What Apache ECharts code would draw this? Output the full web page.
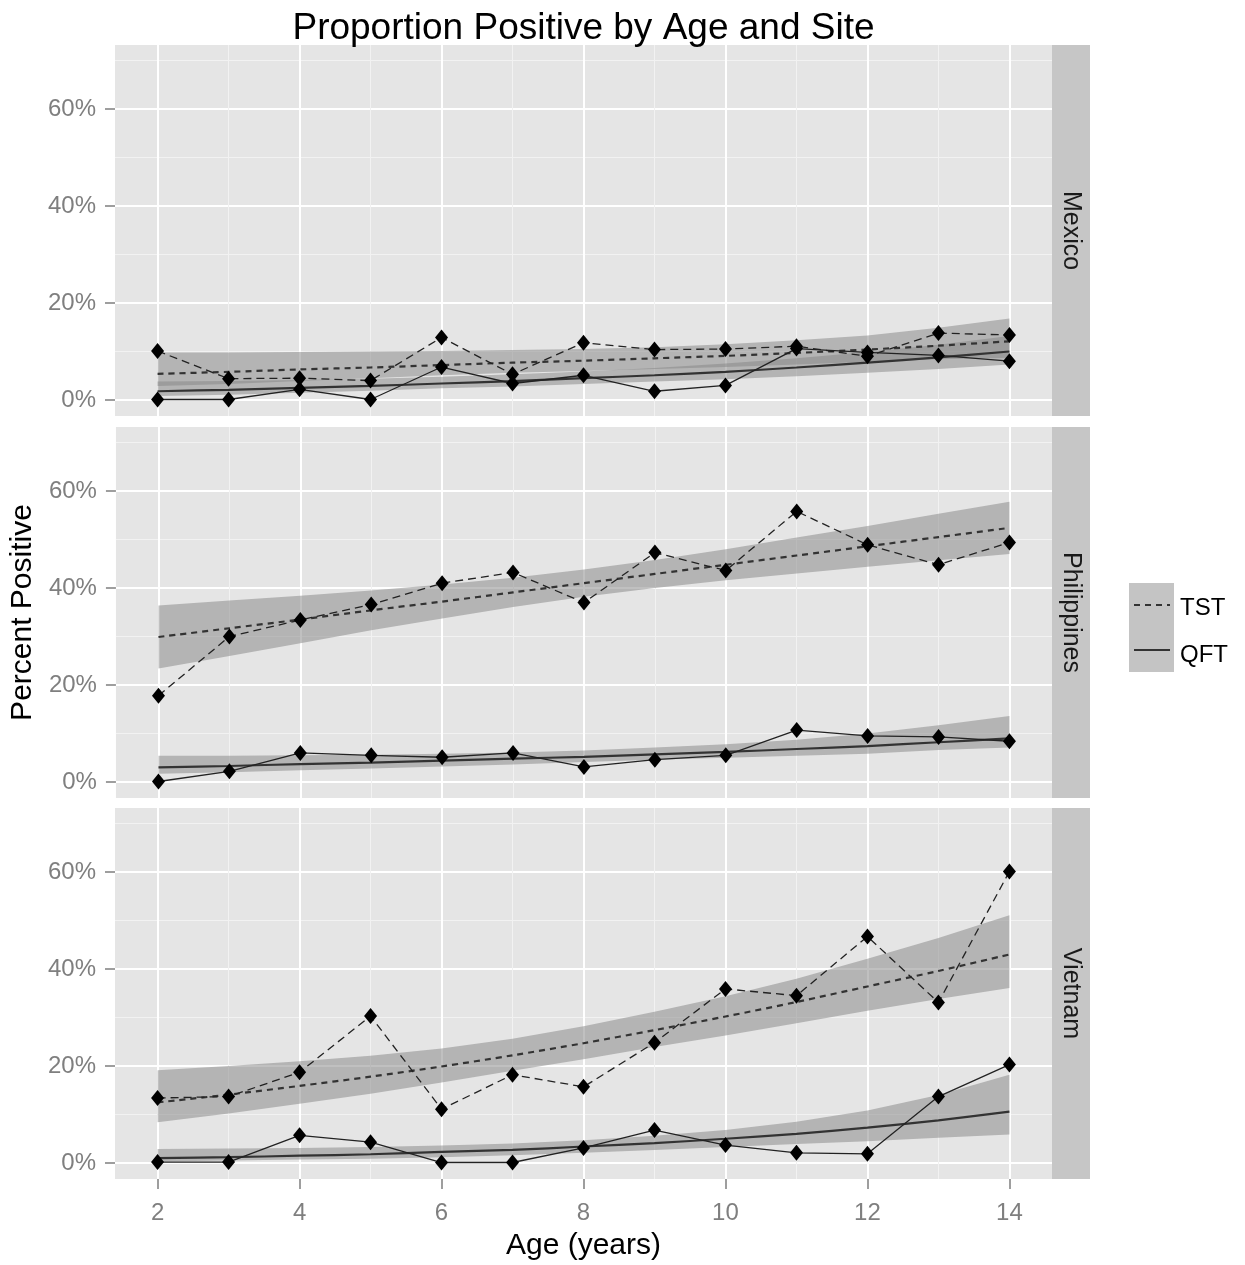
<!DOCTYPE html>
<html><head><meta charset="utf-8">
<script src="https://cdn.jsdelivr.net/npm/echarts@6/dist/echarts.min.js"></script>
<style>html,body{margin:0;padding:0;background:#fff}#c{width:1245px;height:1265px}</style>
</head><body><div id="c"></div>
<script>
// ---- data (percent) ----
const sites = ['Mexico', 'Philippines', 'Vietnam'];
const ages = [2, 3, 4, 5, 6, 7, 8, 9, 10, 11, 12, 13, 14];
const xTickLabels = [2, 4, 6, 8, 10, 12, 14];
const xMinorTicks = [3, 5, 7, 9, 11, 13];
const yTickLabels = [0, 20, 40, 60];
const yMinorTicks = [10, 30, 50, 70];

// observed
const mexicoTST = [10.1, 4.4, 4.5, 4.0, 12.9, 5.3, 11.8, 10.4, 10.5, 11.1, 9.0, 13.8, 13.4];
const mexicoQFT = [0.1, 0.1, 2.2, 0.1, 6.8, 3.4, 5.1, 1.8, 3.0, 10.6, 9.8, 9.2, 8.0];
const philippinesTST = [17.8, 30.0, 33.4, 36.6, 41.0, 43.2, 37.0, 47.3, 43.6, 55.8, 48.9, 44.8, 49.4];
const philippinesQFT = [0.1, 2.2, 6.0, 5.5, 5.1, 6.0, 3.1, 4.6, 5.5, 10.7, 9.5, 9.3, 8.4];
const vietnamTST = [13.4, 13.7, 18.7, 30.3, 11.1, 18.2, 15.7, 24.8, 35.9, 34.5, 46.7, 33.1, 60.1];
const vietnamQFT = [0.2, 0.2, 5.7, 4.3, 0.1, 0.1, 3.1, 6.8, 3.7, 2.1, 1.9, 13.7, 20.3];

// fitted trend + confidence band
const mexicoTSTFit = [5.4, 5.8, 6.3, 6.7, 7.2, 7.7, 8.1, 8.6, 9.1, 9.7, 10.4, 11.2, 12.1];
const mexicoTSTLow = [2.9, 3.3, 3.9, 4.5, 5.1, 5.6, 6.0, 6.4, 6.8, 7.3, 7.9, 8.4, 8.7];
const mexicoTSTHigh = [9.8, 9.8, 9.9, 10.0, 10.1, 10.3, 10.5, 10.9, 11.5, 12.3, 13.3, 14.9, 16.8];
const mexicoQFTFit = [1.8, 2.1, 2.5, 2.9, 3.4, 3.9, 4.5, 5.1, 5.8, 6.7, 7.7, 8.8, 10.0];
const mexicoQFTLow = [0.8, 1.1, 1.5, 1.9, 2.4, 2.8, 3.3, 3.8, 4.3, 4.9, 5.6, 6.4, 7.3];
const mexicoQFTHigh = [3.8, 3.9, 4.1, 4.4, 4.8, 5.3, 5.9, 6.6, 7.5, 8.6, 9.9, 11.4, 13.2];

const philippinesTSTFit = [29.9, 31.7, 33.5, 35.4, 37.2, 39.1, 41.0, 42.9, 44.8, 46.7, 48.6, 50.5, 52.4];
const philippinesTSTLow = [23.4, 26.0, 28.6, 31.3, 33.7, 36.1, 38.2, 40.0, 41.6, 43.0, 44.4, 45.7, 47.0];
const philippinesTSTHigh = [36.4, 37.4, 38.4, 39.5, 40.7, 42.1, 43.8, 45.8, 48.0, 50.4, 52.8, 55.3, 57.8];
const philippinesQFTFit = [3.0, 3.3, 3.7, 4.0, 4.4, 4.8, 5.2, 5.7, 6.2, 6.8, 7.4, 8.2, 9.0];
const philippinesQFTLow = [1.7, 2.0, 2.4, 2.8, 3.2, 3.6, 4.1, 4.6, 5.0, 5.4, 5.8, 6.6, 7.1];
const philippinesQFTHigh = [5.4, 5.4, 5.5, 5.6, 5.8, 6.1, 6.5, 7.1, 7.8, 8.7, 10.0, 11.7, 13.6];

const vietnamTSTFit = [12.5, 14.1, 15.9, 17.8, 19.9, 22.2, 24.7, 27.4, 30.2, 33.2, 36.4, 39.6, 43.0];
const vietnamTSTLow = [8.4, 10.2, 12.2, 14.3, 16.6, 19.0, 21.4, 23.9, 26.3, 28.8, 31.4, 33.8, 36.1];
const vietnamTSTHigh = [19.1, 20.0, 21.0, 22.1, 23.6, 25.6, 28.2, 31.2, 34.4, 38.0, 42.1, 46.4, 51.1];
const vietnamQFTFit = [1.0, 1.2, 1.5, 1.8, 2.3, 2.7, 3.4, 4.1, 5.0, 6.0, 7.3, 8.8, 10.6];
const vietnamQFTLow = [0.3, 0.5, 0.7, 0.9, 1.2, 1.6, 2.1, 2.7, 3.3, 3.9, 4.5, 5.2, 5.9];
const vietnamQFTHigh = [2.9, 3.0, 3.1, 3.3, 3.6, 4.0, 4.7, 5.6, 6.8, 8.5, 10.8, 14.0, 18.2];

const panelData = [
  {tst: mexicoTST, qft: mexicoQFT, tf: mexicoTSTFit, tl: mexicoTSTLow, th: mexicoTSTHigh, qf: mexicoQFTFit, ql: mexicoQFTLow, qh: mexicoQFTHigh},
  {tst: philippinesTST, qft: philippinesQFT, tf: philippinesTSTFit, tl: philippinesTSTLow, th: philippinesTSTHigh, qf: philippinesQFTFit, ql: philippinesQFTLow, qh: philippinesQFTHigh},
  {tst: vietnamTST, qft: vietnamQFT, tf: vietnamTSTFit, tl: vietnamTSTLow, th: vietnamTSTHigh, qf: vietnamQFTFit, ql: vietnamQFTLow, qh: vietnamQFTHigh}
];

// ---- layout ----
const FONT = 'Liberation Sans, Arial, Helvetica, sans-serif';
const LEFT = 115, WIDTH = 937, HEIGHT = 371;
const TOPS = [45, 427, 808];
const STRIP_W = 38;
const X_MIN = 1.4, X_MAX = 14.6, Y_MIN = -3.3, Y_MAX = 73.2;

const pairs = (arr) => ages.map((a, i) => [a, arr[i]]);
const bandRows = (lo, hi) => ages.map((a, i) => [a, lo[i], hi[i]]);

const ribbonRender = (params, api) => {
  if (params.dataIndexInside !== 0) return null;
  const n = params.dataInsideLength;
  const top = [], bot = [];
  for (let i = 0; i < n; i++) {
    const x = api.value(0, i);
    top.push(api.coord([x, api.value(2, i)]));
    bot.push(api.coord([x, api.value(1, i)]));
  }
  return {type: 'polygon', shape: {points: top.concat(bot.reverse())},
    style: {fill: 'rgba(135,135,135,0.52)'}};
};

const grids = [], xAxes = [], yAxes = [], series = [], graphics = [];

TOPS.forEach((top, p) => {
  grids.push({left: LEFT, top: top, width: WIDTH, height: HEIGHT, show: true,
    backgroundColor: '#e5e5e5', borderWidth: 0});
  const bottomPanel = p === TOPS.length - 1;
  xAxes.push({
    type: 'value', gridIndex: p, min: X_MIN, max: X_MAX,
    axisLine: {show: false, onZero: false},
    axisTick: {show: bottomPanel, customValues: xTickLabels, length: 10, lineStyle: {color: '#7f7f7f', width: 1.5}},
    axisLabel: {show: bottomPanel, customValues: xTickLabels, color: '#7f7f7f', fontSize: 24, fontFamily: FONT, margin: 22},
    splitLine: {show: true, lineStyle: {color: '#ffffff', width: 2}},
    name: bottomPanel ? 'Age (years)' : '', nameLocation: 'middle', nameGap: 52,
    nameTextStyle: {fontSize: 30, color: '#000', fontFamily: FONT}
  });
  xAxes.push({
    type: 'value', gridIndex: p, min: X_MIN, max: X_MAX,
    axisLine: {show: false, onZero: false}, axisLabel: {show: false},
    axisTick: {show: false, customValues: xMinorTicks},
    splitLine: {show: true, lineStyle: {color: '#f2f2f2', width: 1}}
  });
  yAxes.push({
    type: 'value', gridIndex: p, min: Y_MIN, max: Y_MAX,
    axisLine: {show: false, onZero: false},
    axisTick: {show: true, customValues: yTickLabels, length: 10, lineStyle: {color: '#7f7f7f', width: 1.5}},
    axisLabel: {customValues: yTickLabels, formatter: v => v + '%', color: '#7f7f7f', fontSize: 24, fontFamily: FONT, margin: 19},
    splitLine: {show: true, lineStyle: {color: '#ffffff', width: 2}},
    name: p === 1 ? 'Percent Positive' : '', nameLocation: 'middle', nameGap: 76, nameRotate: 90,
    nameTextStyle: {fontSize: 30, color: '#000', fontFamily: FONT}
  });
  yAxes.push({
    type: 'value', gridIndex: p, min: Y_MIN, max: Y_MAX,
    axisLine: {show: false, onZero: false}, axisLabel: {show: false},
    axisTick: {show: false, customValues: yMinorTicks},
    splitLine: {show: true, lineStyle: {color: '#f2f2f2', width: 1}}
  });

  const d = panelData[p];
  const xi = p * 2, yi = p * 2;
  series.push({type: 'custom', xAxisIndex: xi, yAxisIndex: yi, data: bandRows(d.tl, d.th),
    encode: {x: 0, y: [1, 2]}, renderItem: ribbonRender, silent: true, z: 1});
  series.push({type: 'custom', xAxisIndex: xi, yAxisIndex: yi, data: bandRows(d.ql, d.qh),
    encode: {x: 0, y: [1, 2]}, renderItem: ribbonRender, silent: true, z: 1});
  // fitted lines
  series.push({type: 'line', xAxisIndex: xi, yAxisIndex: yi, data: pairs(d.tf), symbol: 'none', smooth: 0.3,
    lineStyle: {color: '#333', width: 2.2, type: [6, 5]}, z: 3});
  series.push({type: 'line', xAxisIndex: xi, yAxisIndex: yi, data: pairs(d.qf), symbol: 'none', smooth: 0.3,
    lineStyle: {color: '#333', width: 2.2}, z: 3});
  // observed
  series.push({type: 'line', xAxisIndex: xi, yAxisIndex: yi, data: pairs(d.tst), symbol: 'diamond', symbolSize: [13, 16],
    itemStyle: {color: '#000'}, lineStyle: {color: '#222', width: 1.3, type: [8, 5]}, z: 4});
  series.push({type: 'line', xAxisIndex: xi, yAxisIndex: yi, data: pairs(d.qft), symbol: 'diamond', symbolSize: [13, 16],
    itemStyle: {color: '#000'}, lineStyle: {color: '#222', width: 1.3}, z: 4});

  // facet strip
  graphics.push({type: 'rect', shape: {x: LEFT + WIDTH, y: top, width: STRIP_W, height: HEIGHT},
    style: {fill: '#c6c6c6'}, z: 0});
  graphics.push({type: 'text', x: LEFT + WIDTH + STRIP_W / 2, y: top + HEIGHT / 2, rotation: -Math.PI / 2,
    style: {text: sites[p], fill: '#1a1a1a', fontSize: 25, fontFamily: FONT, align: 'center', verticalAlign: 'middle'}});
});

// title
graphics.push({type: 'text', x: LEFT + WIDTH / 2, y: 29,
  style: {text: 'Proportion Positive by Age and Site', fill: '#000', fontSize: 37, fontFamily: FONT, align: 'center', verticalAlign: 'middle'}});

// legend
graphics.push({type: 'rect', shape: {x: 1129, y: 583, width: 45, height: 89}, style: {fill: '#c4c4c4'}});
graphics.push({type: 'line', shape: {x1: 1134, y1: 605, x2: 1170, y2: 605}, style: {stroke: '#333', lineWidth: 2, lineDash: [6, 5]}});
graphics.push({type: 'line', shape: {x1: 1134, y1: 650, x2: 1170, y2: 650}, style: {stroke: '#333', lineWidth: 2}});
graphics.push({type: 'text', x: 1180, y: 608, style: {text: 'TST', fill: '#000', fontSize: 24, fontFamily: FONT, align: 'left', verticalAlign: 'middle'}});
graphics.push({type: 'text', x: 1180, y: 655, style: {text: 'QFT', fill: '#000', fontSize: 24, fontFamily: FONT, align: 'left', verticalAlign: 'middle'}});

const chart = echarts.init(document.getElementById('c'), null, {renderer: 'canvas'});
chart.setOption({
  animation: false,
  backgroundColor: '#ffffff',
  grid: grids, xAxis: xAxes, yAxis: yAxes, series: series, graphic: graphics
});
</script></body></html>
